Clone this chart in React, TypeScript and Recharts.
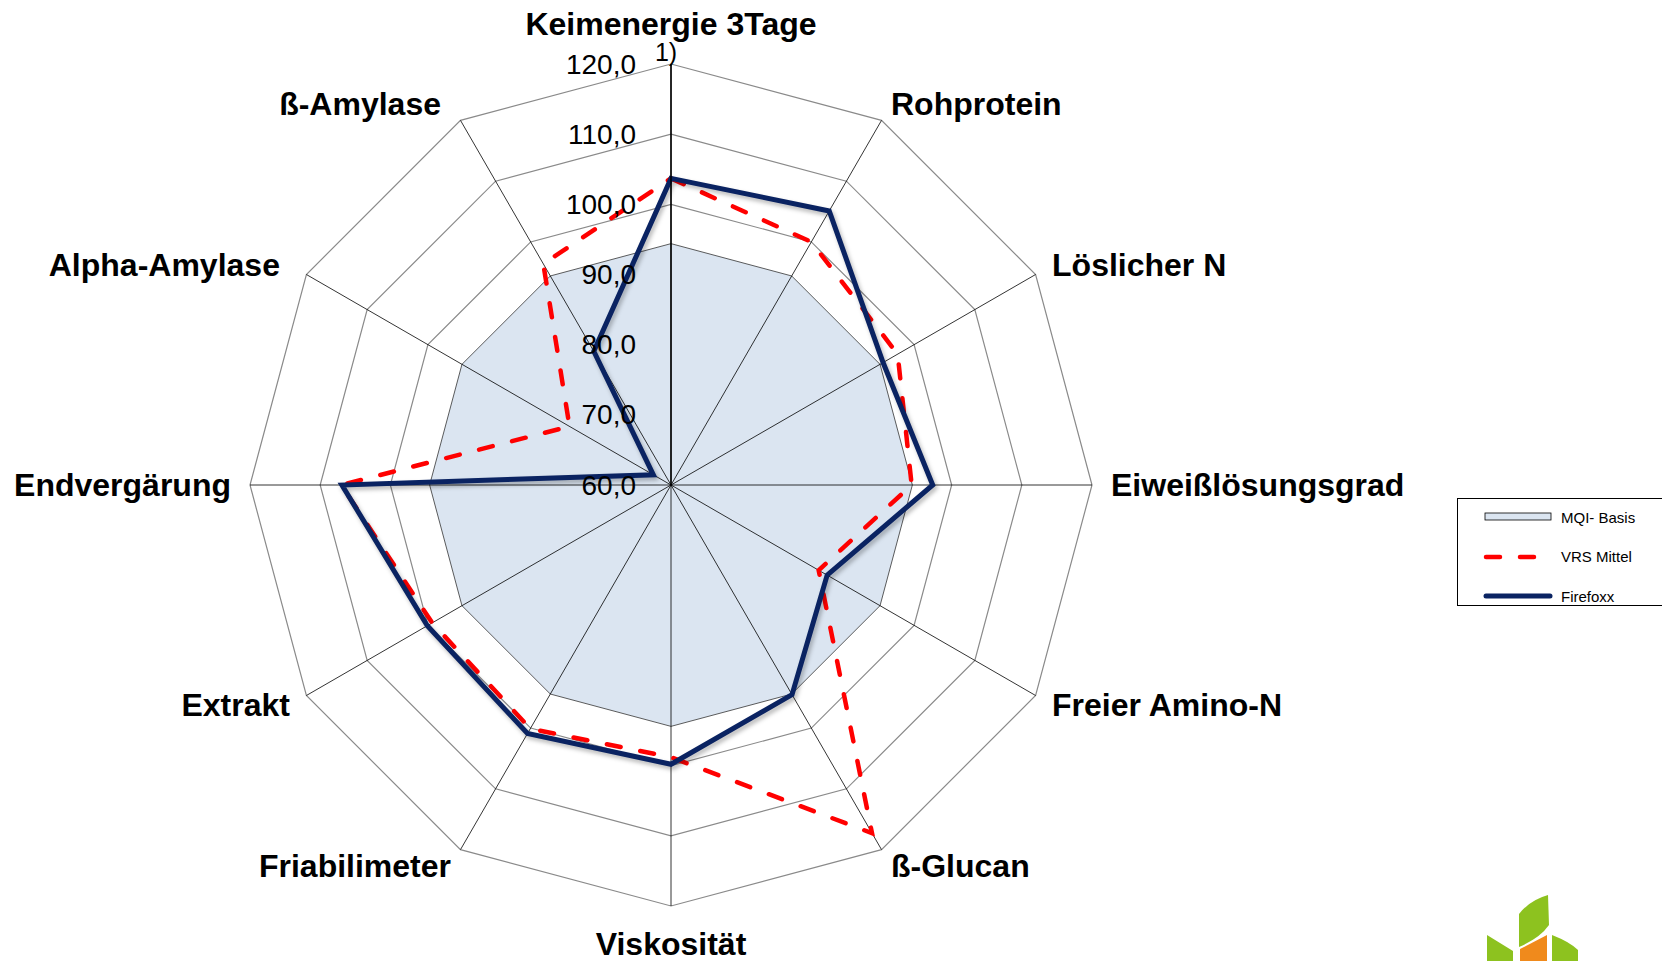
import React from 'react';
import { RadarChart, Radar, PolarGrid, PolarAngleAxis, PolarRadiusAxis, Legend } from 'recharts';

const categories = [
  'Keimenergie 3Tage',
  'Rohprotein',
  'Löslicher N',
  'Eiweißlösungsgrad',
  'Freier Amino-N',
  'ß-Glucan',
  'Viskosität',
  'Friabilimeter',
  'Extrakt',
  'Endvergärung',
  'Alpha-Amylase',
  'ß-Amylase',
];

const seriesNames = ['MQI- Basis', 'VRS Mittel', 'Firefoxx'];

const mqiBasis = [94.4, 94.4, 94.4, 94.4, 94.4, 94.4, 94.4, 94.4, 94.4, 94.4, 94.4, 94.4];
const vrsMittel = [103.7, 100.0, 97.3, 94.3, 84.3, 117.3, 98.8, 100.1, 99.3, 107.0, 76.7, 96.4];
const firefoxx = [103.7, 105.1, 94.9, 97.3, 85.7, 94.5, 99.8, 100.9, 100.1, 106.9, 62.9, 82.0];

const radiusTicks = [60, 70, 80, 90, 100, 110, 120];

const data = categories.map((subject, i) => ({
  subject,
  mqi: mqiBasis[i],
  vrs: vrsMittel[i],
  ff: firefoxx[i],
}));

const FONT = '"Liberation Sans", Arial, sans-serif';
const NAVY = '#0a2362';

function AngleTick(props: any) {
  const { x, y, payload, index } = props;
  const rad = (payload.coordinate * Math.PI) / 180;
  const c = Math.cos(rad);
  const s = Math.sin(rad);
  let anchor = 'middle';
  if (c > 0.01) anchor = 'start';
  else if (c < -0.01) anchor = 'end';
  let dy = 0;
  if (Math.abs(c) <= 0.01) dy = s > 0 ? -21 : 19;
  // upper left labels sit a bit further out in the original
  const dx = c < -0.01 && s > 0.01 ? -10 : 0;
  return (
    <g>
      <text
        x={x + dx}
        y={y + dy}
        textAnchor={anchor}
        dominantBaseline="central"
        fontFamily={FONT}
        fontWeight="bold"
        fontSize={32}
        fill="#000"
      >
        {payload.value}
      </text>
      {index === 0 && (
        <text x={x - 5} y={y + 7} textAnchor="middle" dominantBaseline="central" fontFamily={FONT} fontSize={25} fill="#000">
          1)
        </text>
      )}
    </g>
  );
}

function RadiusTick(props: any) {
  const { x, y, payload } = props;
  return (
    <text x={x - 35} y={y} textAnchor="end" dominantBaseline="central" fontFamily={FONT} fontSize={28} fill="#000">
      {Number(payload.value).toFixed(1).replace('.', ',')}
    </text>
  );
}

function LegendBox(props: any) {
  const items = [...(props.payload || [])].sort(
    (a: any, b: any) => seriesNames.indexOf(a.value) - seriesNames.indexOf(b.value)
  );
  return (
    <div
      style={{
        position: 'relative',
        width: 215,
        height: 108,
        boxSizing: 'border-box',
        border: '1px solid #000',
        background: '#fff',
        fontFamily: FONT,
        fontSize: 15,
        color: '#000',
      }}
    >
      {items.map((entry: any, i: number) => {
        const p = entry.payload || {};
        let swatch;
        if (p.dataKey === 'mqi') {
          swatch = <rect x={2} y={6} width={66} height={7} fill={p.fill} stroke="#000" strokeWidth={0.8} />;
        } else {
          swatch = (
            <line
              x1={3}
              y1={10}
              x2={67}
              y2={10}
              stroke={p.stroke}
              strokeWidth={p.strokeWidth}
              strokeDasharray={p.strokeDasharray}
              strokeLinecap="round"
            />
          );
        }
        return (
          <div key={i} style={{ position: 'absolute', left: 25, top: 8 + i * 39.6, height: 20, display: 'flex', alignItems: 'center' }}>
            <svg width={72} height={20}>{swatch}</svg>
            <span style={{ marginLeft: 6 }}>{entry.value}</span>
          </div>
        );
      })}
    </div>
  );
}

export default function App() {
  return (
    <div style={{ position: 'absolute', left: 0, top: 0, width: 1662, height: 961, overflow: 'hidden', background: '#fff' }}>
      <style>{`.ff-line path { filter: drop-shadow(2px 3px 2px rgba(0,0,0,0.28)); }`}</style>
      <RadarChart
        width={1662}
        height={961}
        cx={671}
        cy={485}
        outerRadius={421}
        data={data}
        margin={{ top: 0, right: 0, bottom: 0, left: 0 }}
      >
        <PolarGrid gridType="polygon" radialLines={false} stroke="#8a8a8a" strokeWidth={1.2} zIndex={-300} />
        <PolarAngleAxis dataKey="subject" tick={AngleTick} tickSize={19} tickLine={false} axisLine={false} />
        <PolarRadiusAxis
          angle={90}
          type="number"
          domain={[60, 120]}
          ticks={radiusTicks}
          tickCount={7}
          tick={RadiusTick}
          tickLine={false}
          axisLine={{ stroke: '#000', strokeWidth: 1.5 }}
        />
        <Radar
          name="MQI- Basis"
          dataKey="mqi"
          fill="#dbe5f1"
          fillOpacity={1}
          stroke="#333"
          strokeWidth={0.8}
          zIndex={-200}
          isAnimationActive={false}
        />
        <PolarGrid gridType="polygon" polarRadius={[]} radialLines stroke="#000" strokeWidth={0.8} zIndex={-100} />
        <Radar
          name="VRS Mittel"
          dataKey="vrs"
          fill="none"
          fillOpacity={0}
          stroke="#ff0000"
          strokeWidth={4.5}
          strokeDasharray="14 20"
          strokeLinecap="round"
          isAnimationActive={false}
        />
        <Radar
          name="Firefoxx"
          dataKey="ff"
          className="ff-line"
          fill="none"
          fillOpacity={0}
          stroke={NAVY}
          strokeWidth={5}
          strokeLinejoin="miter"
          isAnimationActive={false}
        />
        <Legend content={LegendBox} wrapperStyle={{ position: 'absolute', left: 1457, top: 498, width: 215, height: 108 }} />
      </RadarChart>
      <svg style={{ position: 'absolute', left: 0, top: 0 }} width={1662} height={961}>
        <path d="M1519,914 Q1530,900 1548,895 L1549,925 Q1540,938 1519,947 Z" fill="#8dc21f" />
        <path d="M1520,949 L1547,935 L1547,961 L1520,961 Z" fill="#f08a1c" />
        <path d="M1487,935 L1513,951 L1513,961 L1487,961 Z" fill="#8dc21f" />
        <path d="M1552,935 Q1570,942 1578,950 L1578,961 L1552,961 Z" fill="#8dc21f" />
      </svg>
    </div>
  );
}
